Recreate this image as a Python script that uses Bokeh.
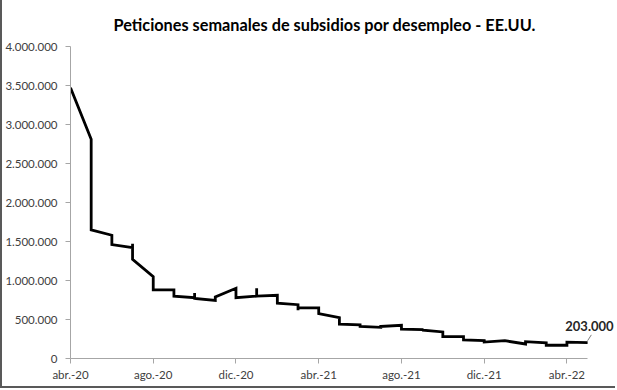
import pandas as pd
from bokeh.plotting import figure
from bokeh.models import FixedTicker, Range1d, Label
from bokeh.embed import file_html
from bokeh.resources import INLINE

# Weekly initial claims, grouped by month (Excel-style monthly date axis)
months = ["2020-04",
          "2020-05", "2020-05",
          "2020-06", "2020-06",
          "2020-07", "2020-07", "2020-07",
          "2020-08", "2020-08",
          "2020-09", "2020-09",
          "2020-10", "2020-10", "2020-10",
          "2020-11", "2020-11",
          "2020-12", "2020-12",
          "2021-01", "2021-01", "2021-01",
          "2021-02", "2021-02",
          "2021-03", "2021-03", "2021-03",
          "2021-04", "2021-04",
          "2021-05", "2021-05",
          "2021-06", "2021-06",
          "2021-07", "2021-07", "2021-07",
          "2021-08", "2021-08",
          "2021-09", "2021-09", "2021-09",
          "2021-10", "2021-10",
          "2021-11", "2021-11",
          "2021-12", "2021-12",
          "2022-01",
          "2022-02", "2022-02",
          "2022-03", "2022-03",
          "2022-04", "2022-04",
          "2022-05"]
claims = [3470000,
          2810000, 1650000,
          1580000, 1460000,
          1420000, 1470000, 1270000,
          1050000, 880000,
          880000, 800000,
          780000, 840000, 770000,
          745000, 790000,
          900000, 780000,
          800000, 900000, 800000,
          810000, 710000,
          690000, 620000, 650000,
          650000, 575000,
          525000, 440000,
          430000, 410000,
          400000, 430000, 410000,
          425000, 377000,
          370000, 355000, 365000,
          340000, 280000,
          280000, 237000,
          228000, 210000,
          228000,
          186000, 216000,
          200000, 170000,
          170000, 210000,
          203000]

x_tick_months = ["2020-04", "2020-08", "2020-12", "2021-04", "2021-08", "2021-12", "2022-04"]
x_tick_labels = ["abr.-20", "ago.-20", "dic.-20", "abr.-21", "ago.-21", "dic.-21", "abr.-22"]
y_ticks = [0, 500000, 1000000, 1500000, 2000000, 2500000, 3000000, 3500000, 4000000]
y_tick_labels = ["0", "500.000", "1.000.000", "1.500.000", "2.000.000",
                 "2.500.000", "3.000.000", "3.500.000", "4.000.000"]
last_label = "203.000"
title_text = "Peticiones semanales de subsidios por desempleo - EE.UU."

start = pd.Period("2020-04", "M")


def month_index(m):
    return (pd.Period(m, "M") - start).n


xs = [month_index(m) for m in months]
x_ticks = [month_index(m) for m in x_tick_months]
x_end = max(xs)

FONT = "Lato"
TEXT_COLOR = "#404040"
AXIS_COLOR = "#a6a6a6"

# frame extends a little past the last month so the end label is not clipped
p = figure(width=615, height=388, output_backend="svg", toolbar_location=None,
           x_range=Range1d(0, x_end * 549 / 519), y_range=Range1d(0, 4000000),
           min_border_left=66, min_border_right=0, min_border_top=43,
           min_border_bottom=30)
p.outline_line_color = None
p.xgrid.visible = False
p.ygrid.visible = False
p.background_fill_color = "white"
p.border_fill_color = "white"
p.styles = {"border-left": "2px solid #595959", "border-bottom": "2px solid #595959"}

p.title.text = title_text
p.title.align = "left"
p.title.offset = 43
p.title.text_font = FONT
p.title.text_font_size = "16.3px"
p.title.text_font_style = "bold"
p.title.text_color = "#000000"
p.title.standoff = 25

for ax in (p.xaxis[0], p.yaxis[0]):
    ax.axis_line_color = AXIS_COLOR
    ax.major_tick_line_color = AXIS_COLOR
    ax.major_tick_out = 5
    ax.major_tick_in = 0
    ax.minor_tick_line_color = None
    ax.major_label_text_font = FONT
    ax.major_label_text_font_size = "11.5px"
    ax.major_label_text_color = TEXT_COLOR

p.yaxis[0].ticker = FixedTicker(ticks=y_ticks)
p.yaxis[0].major_label_overrides = {t: l for t, l in zip(y_ticks, y_tick_labels)}
p.yaxis[0].major_label_standoff = 8

p.xaxis[0].ticker = FixedTicker(ticks=x_ticks)
p.xaxis[0].major_label_overrides = {t: l for t, l in zip(x_ticks, x_tick_labels)}
p.xaxis[0].major_label_standoff = 4
p.xaxis[0].bounds = (0, x_end)

p.line(xs, claims, line_color="black", line_width=2.8, line_join="miter")

# leader line + value label at last point
lx, ly = xs[-1], claims[-1]
p.segment(x0=[lx], y0=[ly + 25000], x1=[lx + 0.18], y1=[ly + 100000],
          line_color="#7f7f7f", line_width=1)
p.add_layout(Label(x=lx, y=ly, x_offset=26, y_offset=12, text=last_label,
                   text_align="right", text_baseline="bottom",
                   text_font=FONT, text_font_size="13px", text_font_style="bold",
                   text_color="#262626"))

open("out.html", "w").write(file_html(p, INLINE))
